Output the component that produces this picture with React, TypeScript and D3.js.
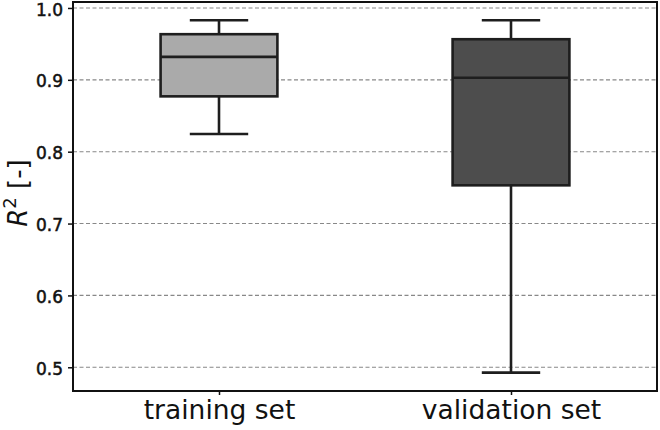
import { useEffect, useRef } from "react";
import * as d3 from "d3";

const categories = ["training set", "validation set"];
const whiskerLow = [0.8246, 0.4926];
const q1 = [0.877, 0.7532];
const median = [0.932, 0.9028];
const q3 = [0.9635, 0.9565];
const whiskerHigh = [0.983, 0.983];
const fills = ["#aaaaaa", "#4d4d4d"];
const yTicks = [0.5, 0.6, 0.7, 0.8, 0.9, 1.0];

const width = 660;
const height = 430;
const margin = { top: 2, right: 3, bottom: 39, left: 73 };

export default function App() {
  const ref = useRef<SVGSVGElement>(null);

  useEffect(() => {
    const svg = d3.select(ref.current);
    svg.selectAll("*").remove();

    const innerW = width - margin.left - margin.right;
    const innerH = height - margin.top - margin.bottom;

    const x = d3.scaleLinear().domain([0.5, 2.5]).range([0, innerW]);
    const y = d3.scaleLinear().domain([0.467, 1.0083]).range([innerH, 0]);
    const boxW = x(1.2) - x(0.8);
    const capW = x(1.1) - x(0.9);

    const g = svg
      .append("g")
      .attr("transform", `translate(${margin.left},${margin.top})`);

    // grid
    g.selectAll(".grid")
      .data(yTicks)
      .join("line")
      .attr("x1", 0)
      .attr("x2", innerW)
      .attr("y1", (d) => y(d))
      .attr("y2", (d) => y(d))
      .attr("stroke", "#888")
      .attr("stroke-width", 1.1)
      .attr("stroke-dasharray", "4,2.5");

    const data = categories.map((c, i) => ({
      c,
      pos: i + 1,
      lo: whiskerLow[i],
      q1: q1[i],
      med: median[i],
      q3: q3[i],
      hi: whiskerHigh[i],
      fill: fills[i],
    }));

    const stroke = "#1e1e1e";
    const sw = 2.6;
    const boxes = g.selectAll(".box").data(data).join("g");

    const line = (
      x1: (d: any) => number,
      x2: (d: any) => number,
      y1: (d: any) => number,
      y2: (d: any) => number
    ) =>
      boxes
        .append("line")
        .attr("x1", x1)
        .attr("x2", x2)
        .attr("y1", y1)
        .attr("y2", y2)
        .attr("stroke", stroke)
        .attr("stroke-width", sw);

    line((d) => x(d.pos), (d) => x(d.pos), (d) => y(d.lo), (d) => y(d.q1));
    line((d) => x(d.pos), (d) => x(d.pos), (d) => y(d.q3), (d) => y(d.hi));
    line(
      (d) => x(d.pos) - capW / 2,
      (d) => x(d.pos) + capW / 2,
      (d) => y(d.lo),
      (d) => y(d.lo)
    );
    line(
      (d) => x(d.pos) - capW / 2,
      (d) => x(d.pos) + capW / 2,
      (d) => y(d.hi),
      (d) => y(d.hi)
    );
    boxes
      .append("rect")
      .attr("x", (d) => x(d.pos) - boxW / 2)
      .attr("width", boxW)
      .attr("y", (d) => y(d.q3))
      .attr("height", (d) => y(d.q1) - y(d.q3))
      .attr("fill", (d) => d.fill)
      .attr("stroke", stroke)
      .attr("stroke-width", sw);
    line(
      (d) => x(d.pos) - boxW / 2,
      (d) => x(d.pos) + boxW / 2,
      (d) => y(d.med),
      (d) => y(d.med)
    );

    // axes
    const yAxis = g
      .append("g")
      .call(
        d3
          .axisLeft(y)
          .tickValues(yTicks)
          .tickFormat(d3.format(".1f"))
          .tickSize(5)
          .tickPadding(5)
      );
    yAxis.select(".domain").remove();
    yAxis
      .selectAll("text")
      .attr("dy", "0.42em")
      .attr("font-family", "DejaVu Sans")
      .attr("font-size", 17)
      .attr("fill", "#111")
      .attr("stroke", "#111")
      .attr("stroke-width", 0.5);
    yAxis.selectAll("line").attr("stroke", "#111").attr("stroke-width", 1.5);

    const xAxis = g
      .append("g")
      .attr("transform", `translate(0,${innerH})`)
      .call(
        d3
          .axisBottom(x)
          .tickValues([1, 2])
          .tickFormat((d) => categories[(d as number) - 1])
          .tickSize(4)
          .tickPadding(5)
      );
    xAxis.select(".domain").remove();
    xAxis
      .selectAll("text")
      .attr("font-family", "DejaVu Sans")
      .attr("font-size", 26.5)
      .attr("fill", "#111");
    xAxis.selectAll("line").attr("stroke", "#111").attr("stroke-width", 1.5);

    // frame
    g.append("rect")
      .attr("x", 0)
      .attr("y", 0)
      .attr("width", innerW)
      .attr("height", innerH)
      .attr("fill", "none")
      .attr("stroke", "#111")
      .attr("stroke-width", 2);

    // y label
    const label = svg
      .append("text")
      .attr("transform", `translate(27,193) rotate(-90)`)
      .attr("text-anchor", "middle")
      .attr("font-family", "DejaVu Sans")
      .attr("font-size", 26)
      .attr("fill", "#111");
    label.append("tspan").attr("font-style", "italic").text("R");
    label.append("tspan").attr("font-size", 18).attr("dy", -11).text("2");
    label.append("tspan").attr("dy", 11).text(" [-]");
  }, []);

  return (
    <svg
      ref={ref}
      width={width}
      height={height}
      style={{ position: "absolute", left: 0, top: 0, background: "#fff" }}
    />
  );
}
